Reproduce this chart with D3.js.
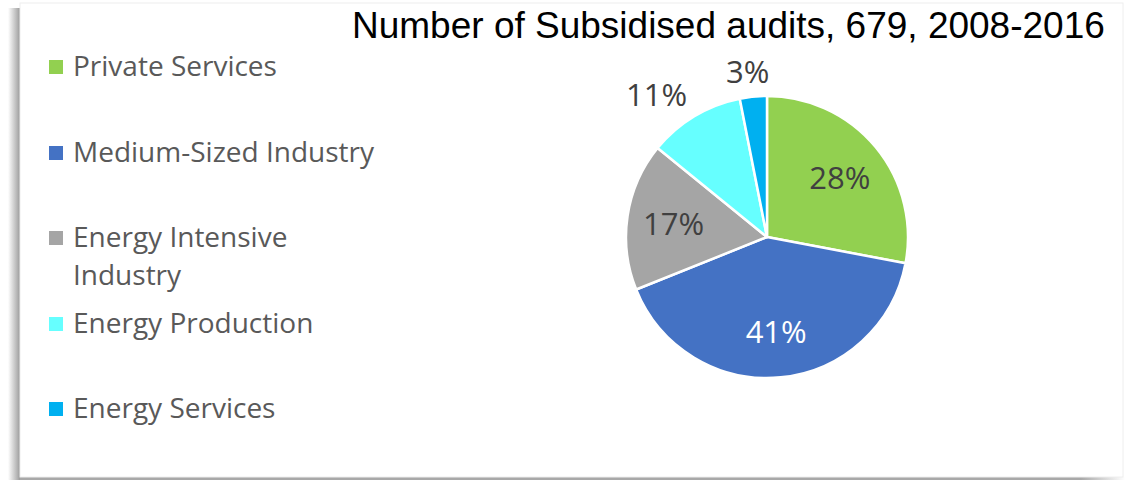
<!DOCTYPE html>
<html>
<head>
<meta charset="utf-8">
<script src="https://cdn.jsdelivr.net/npm/d3@7"></script>
<style>
  html, body { margin: 0; padding: 0; background: #fff; }
  svg { display: block; }
</style>
</head>
<body>
<svg id="chart" width="1137" height="480"></svg>
<script>
// Sector names, counts of audits (679 in total) and slice colours.
const categories = ["Private Services", "Medium-Sized Industry", "Energy Intensive Industry", "Energy Production", "Energy Services"];
const legendLines = [["Private Services"], ["Medium-Sized Industry"], ["Energy Intensive", "Industry"], ["Energy Production"], ["Energy Services"]];
const audits = [190, 278, 115, 75, 21];
const colors = ["#92D050", "#4472C4", "#A5A5A5", "#66FFFF", "#00B0F0"];
const title = "Number of Subsidised audits, 679, 2008-2016";

const svg = d3.select("#chart");

// --- Chart frame with soft shadow on the left and bottom. ---
const defs = svg.append("defs");
const sh = defs.append("linearGradient").attr("id", "leftShadow").attr("x1", 0).attr("x2", 1).attr("y1", 0).attr("y2", 0);
sh.append("stop").attr("offset", "0%").attr("stop-color", "#fff");
sh.append("stop").attr("offset", "80%").attr("stop-color", "#b0b0b0");
sh.append("stop").attr("offset", "100%").attr("stop-color", "#9a9a9a");
const bh = defs.append("linearGradient").attr("id", "bottomShadow").attr("x1", 0).attr("x2", 1).attr("y1", 0).attr("y2", 0);
bh.append("stop").attr("offset", "0%").attr("stop-color", "#a8a8a8");
bh.append("stop").attr("offset", "96%").attr("stop-color", "#a8a8a8");
bh.append("stop").attr("offset", "100%").attr("stop-color", "#fff");

svg.append("rect").attr("x", 8).attr("y", 8).attr("width", 12).attr("height", 472).attr("fill", "url(#leftShadow)");
svg.append("rect").attr("x", 20).attr("y", 477).attr("width", 1105).attr("height", 3).attr("fill", "url(#bottomShadow)");
svg.append("rect")
  .attr("x", 20).attr("y", 3).attr("width", 1103).attr("height", 474)
  .attr("fill", "#fff").attr("stroke", "#eeeeee").attr("stroke-width", 1);

// --- Title. ---
svg.append("text")
  .attr("x", 352).attr("y", 38)
  .style("font-family", "'Liberation Sans', Arial, sans-serif")
  .style("font-size", "37px")
  .style("fill", "#000")
  .text(title);

// --- Legend. ---
const legend = svg.append("g").attr("class", "legend");
const legendBase = [76, 162, 247, 333, 418];
legendLines.forEach((lines, i) => {
  const g = legend.append("g");
  g.append("rect")
    .attr("x", 49).attr("y", legendBase[i] - 16)
    .attr("width", 14).attr("height", 14)
    .attr("fill", colors[i]);
  const t = g.append("text")
    .attr("x", 73).attr("y", legendBase[i])
    .style("font-family", "'Open Sans', sans-serif")
    .style("font-size", "28px")
    .style("fill", "#595959");
  lines.forEach((line, j) => {
    t.append("tspan").attr("x", 73).attr("dy", j === 0 ? 0 : 38).text(line);
  });
});

// --- Pie. ---
const cx = 767, cy = 237, r = 141;
const total = d3.sum(audits);
const pie = d3.pie().sort(null).value((d) => d)(audits);
const arc = d3.arc().innerRadius(0).outerRadius(r);
const pieG = svg.append("g").attr("transform", `translate(${cx},${cy})`);

pieG.selectAll("path.slice")
  .data(pie)
  .join("path")
  .attr("class", "slice")
  .attr("d", arc)
  .attr("fill", (d, i) => colors[i])
  .attr("stroke", "#fff")
  .attr("stroke-width", 2.5)
  .attr("stroke-linejoin", "round");

// Percentage labels: inside for big slices, outside for small ones.
const fmt = (v) => `${Math.round((v / total) * 100)}%`;
const labelArc = d3.arc().innerRadius(r * 0.67).outerRadius(r * 0.67);
pie.forEach((d, i) => {
  const share = d.value / total;
  const label = pieG.append("text")
    .attr("text-anchor", "middle")
    .attr("dominant-baseline", "central")
    .style("font-family", "'Open Sans', sans-serif")
    .style("font-size", "31px")
    .style("fill", i === 1 ? "#fff" : "#404040")
    .text(fmt(d.value));
  if (share >= 0.15) {
    const [x, y] = labelArc.centroid(d);
    label.attr("x", x).attr("y", y);
  } else {
    // Outside label: box sits just off the rim, pushed away along the slice's mid-angle.
    const bb = label.node().getBBox();
    const mid = (d.startAngle + d.endAngle) / 2;
    const dx = Math.sin(mid), dy = -Math.cos(mid);
    const kx = Math.max(-1, Math.min(1, dx * 2));
    const x = dx * (r + 14) + kx * bb.width / 2;
    const y = dy * (r + 14) + dy * 12;
    label.attr("x", x).attr("y", y);
  }
});
</script>
</body>
</html>
